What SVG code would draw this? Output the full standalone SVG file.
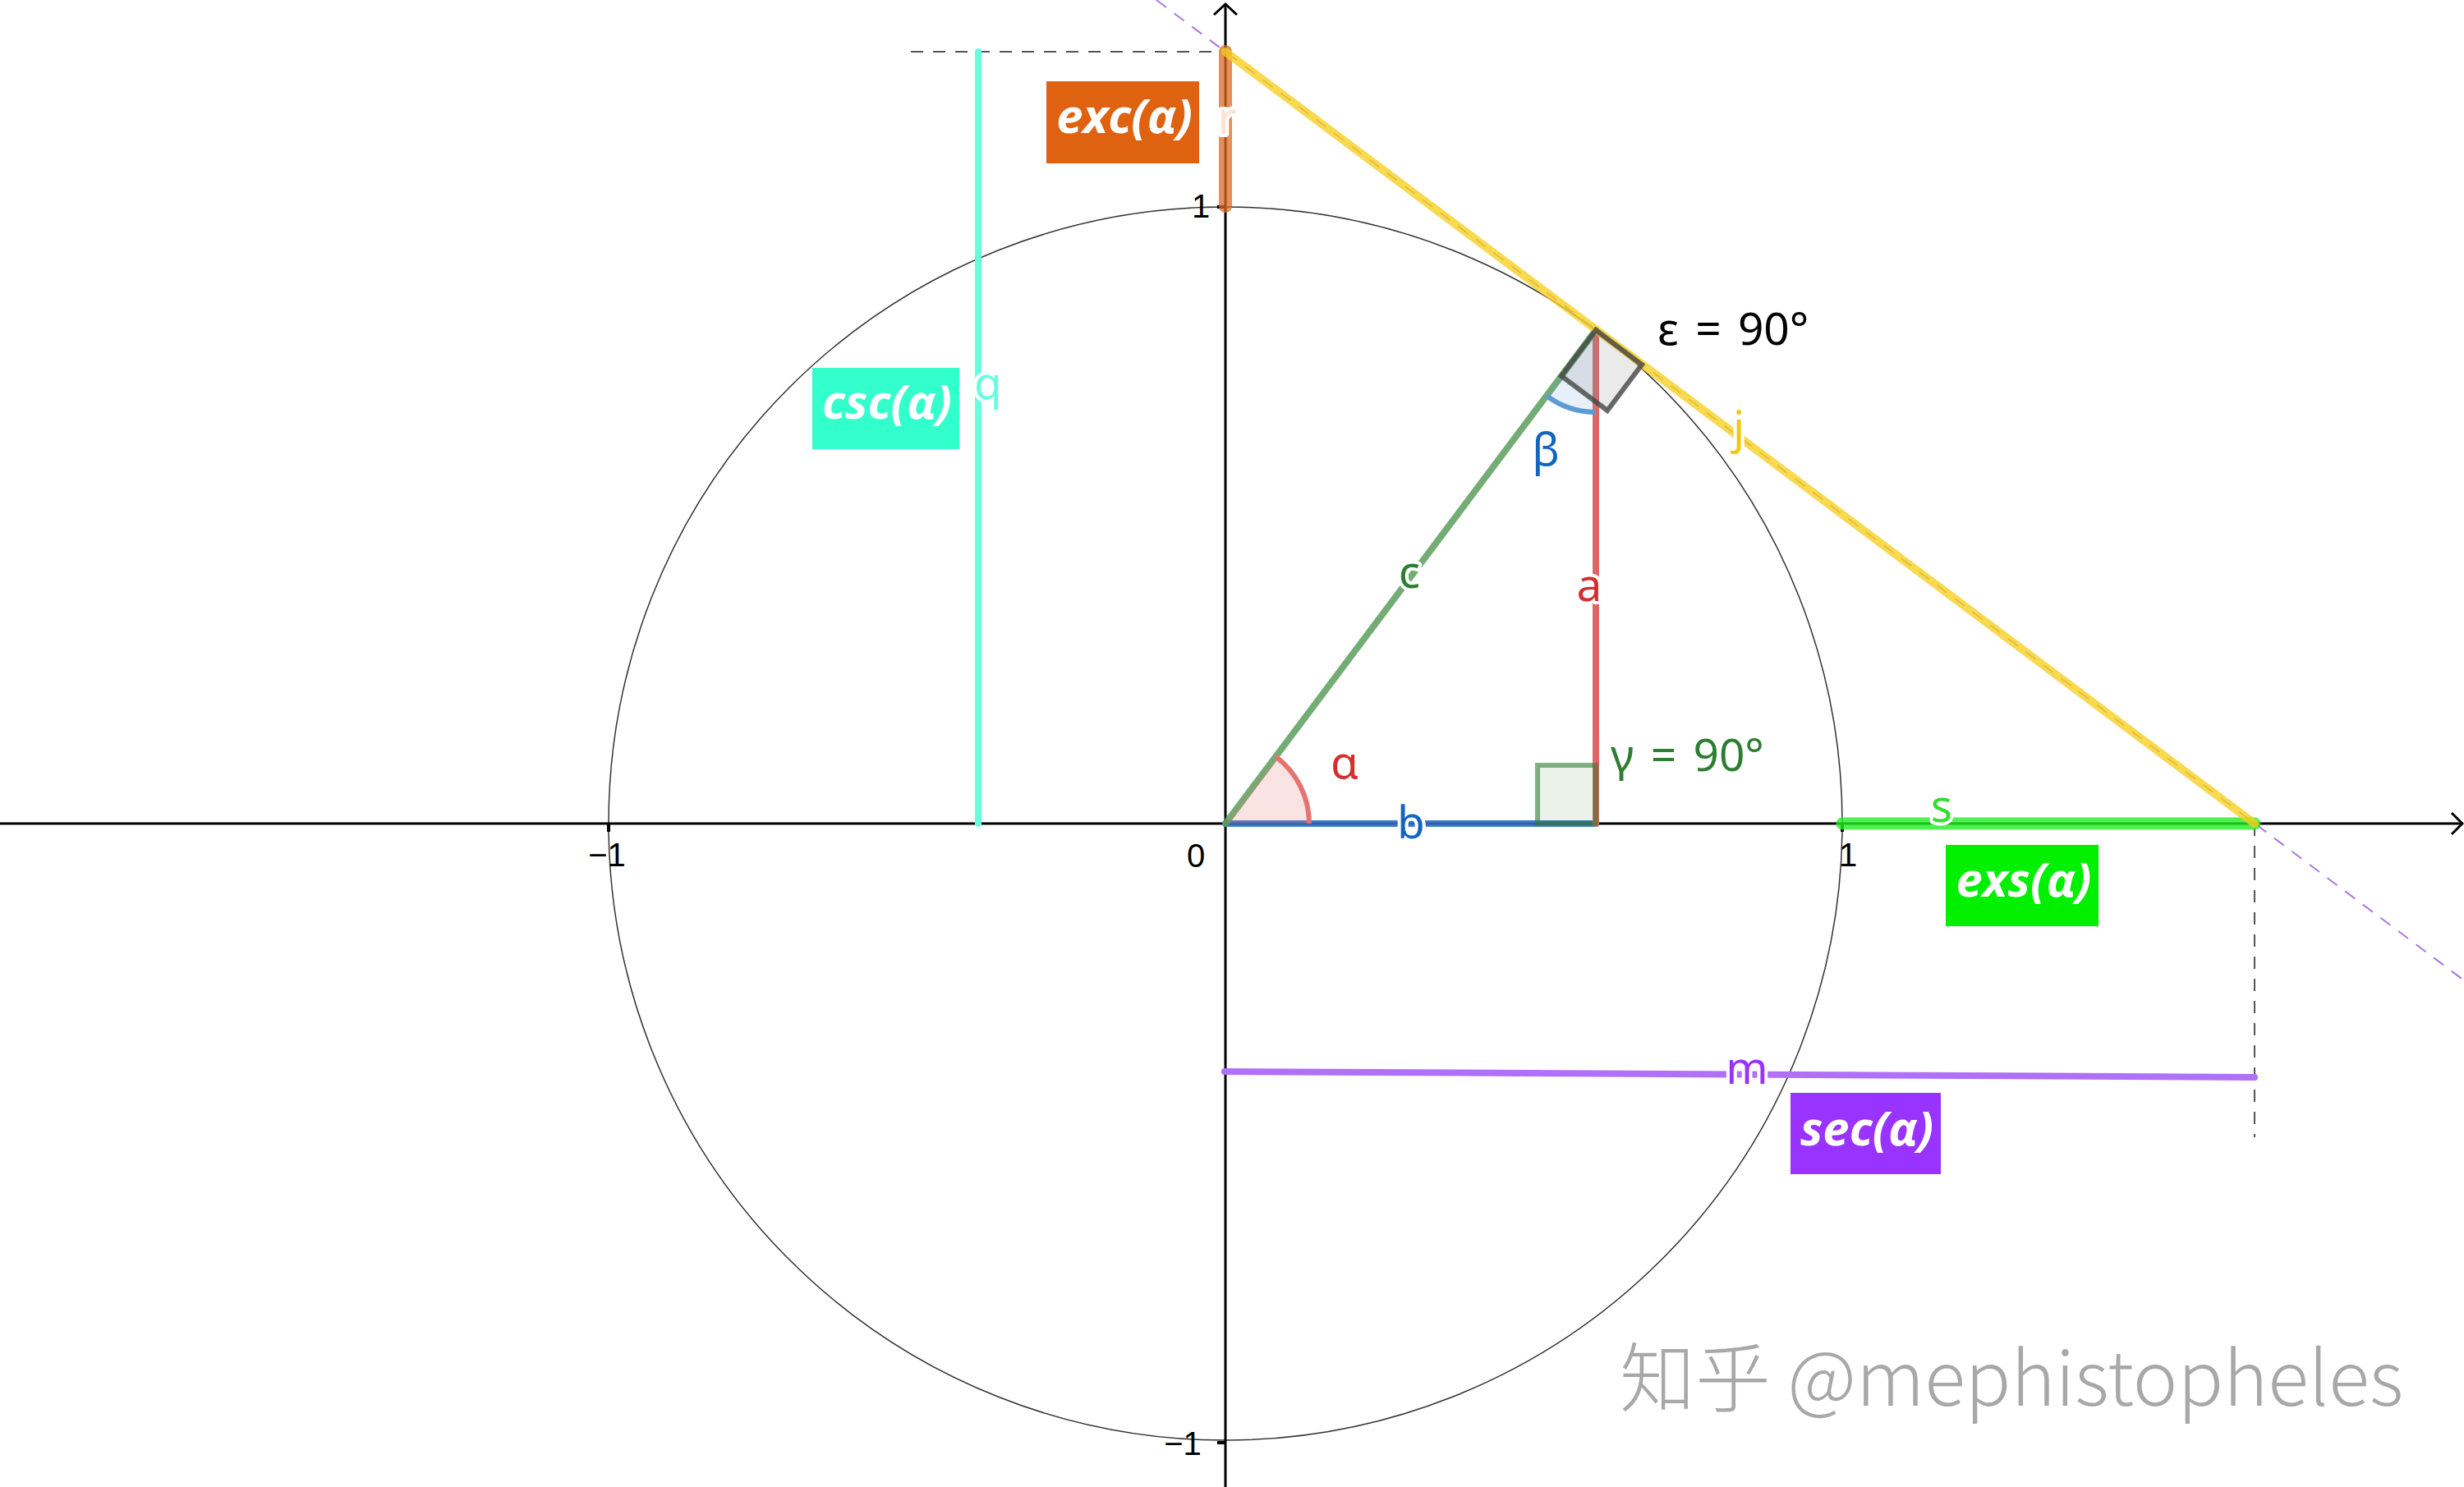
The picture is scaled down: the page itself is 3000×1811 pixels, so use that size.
<svg xmlns="http://www.w3.org/2000/svg" width="3000" height="1811" viewBox="0 0 3000 1811">
<style>
.axis{stroke:#000;stroke-width:3;fill:none}
.tickm{stroke:#000;stroke-width:4}
.tick{font-family:"Liberation Sans",Arial,sans-serif;font-size:40px;fill:#000}
.lbl{font-family:"Noto Sans","Open Sans",sans-serif;font-size:55px;paint-order:stroke;stroke:#fff;stroke-width:8;stroke-linejoin:round}
.plain{font-family:"Noto Sans","Open Sans",sans-serif;font-size:55px}
.box{font-family:"Open Sans","Noto Sans",sans-serif;font-weight:bold;font-style:italic;font-size:58px;fill:#fff;text-anchor:middle}
.mid{text-anchor:middle}
.dash{fill:none;stroke:#555;stroke-width:2;stroke-dasharray:15 12}
.seg{fill:none;stroke-linecap:round}
</style>
<rect width="3000" height="1811" fill="#fff"/>
<g id="grid">
  <circle cx="1492" cy="1003" r="751" fill="none" stroke="#333" stroke-width="1.5"/>
  <line class="axis" x1="0" y1="1003" x2="2998" y2="1003"/>
  <path class="axis" d="M2985,990 L2998,1003 L2985,1016"/>
  <line class="axis" x1="1492" y1="1811" x2="1492" y2="5"/>
  <path class="axis" d="M1478,18 L1492,5 L1506,18"/>
  <line class="tickm" x1="741" y1="1003" x2="741" y2="1013"/>
  <line class="tickm" x1="2243" y1="1003" x2="2243" y2="1013"/>
  <line class="tickm" x1="1482" y1="252" x2="1492" y2="252"/>
  <line class="tickm" x1="1482" y1="1757" x2="1492" y2="1757"/>
  <text class="tick mid" x="739" y="1055">−1</text>
  <text class="tick mid" x="2250" y="1055">1</text>
  <text class="tick mid" x="1456" y="1056">0</text>
  <text class="tick mid" x="1462" y="265">1</text>
  <text class="tick mid" x="1440" y="1772">−1</text>
</g>
<g id="connectors">
  <line class="dash" x1="1109" y1="63" x2="1492" y2="63"/>
  <line class="dash" x1="2745" y1="1003" x2="2745" y2="1385"/>
  <line id="tangent-line" x1="1408" y1="0" x2="3000" y2="1194" stroke="#a878e0" stroke-width="2" stroke-dasharray="15 12"/>
  <line id="seg-q" class="seg" x1="1191" y1="63" x2="1191" y2="1003" stroke="#66ffdd" stroke-width="8"/>
  <line id="seg-m" class="seg" x1="1491" y1="1305" x2="2745" y2="1312" stroke="#b070f8" stroke-width="8"/>
  <line id="seg-b" class="seg" x1="1492" y1="1003" x2="1943" y2="1003" stroke="#2f6fc4" stroke-width="8" opacity="0.9"/>
  <line id="seg-a" class="seg" x1="1943" y1="402" x2="1943" y2="1003" stroke="#e06666" stroke-width="8"/>
  <line id="seg-c" class="seg" x1="1492" y1="1003" x2="1943" y2="402" stroke="#5a9e5c" stroke-width="8" opacity="0.85"/>
  <line id="seg-s" class="seg" x1="2243" y1="1003" x2="2745" y2="1003" stroke="#22ee22" stroke-width="15" opacity="0.8"/>
  <line id="seg-r" class="seg" x1="1492" y1="63" x2="1492" y2="251" stroke="#dd6a20" stroke-width="16" opacity="0.75"/>
  <line id="seg-j" class="seg" x1="1492" y1="63" x2="2745" y2="1003" stroke="#f8d020" stroke-width="10" opacity="0.8"/>
</g>
<g id="angle-alpha">
  <path d="M1492,1003 L1594,1003 A102,102 0 0 0 1553.2,921.4 Z" fill="#e57373" fill-opacity="0.2"/>
  <path d="M1594,1003 A102,102 0 0 0 1553.2,921.4" fill="none" stroke="#e57373" stroke-width="6"/>
  <text class="plain" x="1620" y="948" fill="#d32f2f">α</text>
</g>
<g id="angle-beta">
  <path d="M1943,402 L1943,502 A100,100 0 0 1 1883,482 Z" fill="#5b9bd5" fill-opacity="0.15"/>
  <path d="M1943,502 A100,100 0 0 1 1883,482" fill="none" stroke="#5b9bd5" stroke-width="6"/>
  <text class="plain mid" x="1882" y="567" fill="#1565c0">β</text>
</g>
<g id="angle-gamma">
  <rect x="1872" y="932" width="71" height="71" fill="#2e7d32" fill-opacity="0.1" stroke="#2e7d32" stroke-opacity="0.6" stroke-width="6"/>
  <text class="plain" x="1961" y="939" fill="#2e7d32" word-spacing="6">γ = 90°</text>
</g>
<g id="angle-epsilon">
  <polygon points="1943,402 1999,444 1957,500 1901,458" fill="#888" fill-opacity="0.18" stroke="#444" stroke-opacity="0.8" stroke-width="6"/>
  <text class="plain" x="2018" y="420" fill="#000" word-spacing="6">ε = 90°</text>
</g>
<g id="segment-labels">
  <text class="lbl mid" x="1935" y="732" fill="#d32f2f">a</text>
  <text class="lbl mid" x="1718" y="1021" fill="#1565c0">b</text>
  <text class="lbl mid" x="1716" y="716" fill="#2e7d32">c</text>
  <text class="lbl mid" x="2117" y="540" fill="#f0c810">j</text>
  <text class="lbl" x="1186" y="486" fill="#66ffdd">q</text>
  <text class="lbl mid" x="2364" y="1001" fill="#33dd33">s</text>
  <text class="lbl mid" x="2127" y="1320" fill="#9933ff">m</text>
  <text class="lbl mid" x="1494" y="163" fill="#fbe3d3">r</text>
</g>
<g id="box-exc">
  <rect x="1274" y="99" width="186" height="100" fill="#df6210"/>
  <text class="box" x="1369" y="162">exc(α)</text>
</g>
<g id="box-csc">
  <rect x="989" y="448" width="179" height="99" fill="#33ffcc"/>
  <text class="box" x="1080" y="510">csc(α)</text>
</g>
<g id="box-exs">
  <rect x="2369" y="1029" width="186" height="99" fill="#00f000"/>
  <text class="box" x="2464" y="1092">exs(α)</text>
</g>
<g id="box-sec">
  <rect x="2180" y="1331" width="183" height="99" fill="#9933ff"/>
  <text class="box" x="2273" y="1395">sec(α)</text>
</g>
<g id="watermark">
  <text x="1972" y="1712" font-family="'Noto Sans CJK SC','Noto Sans',sans-serif" font-size="92" font-weight="300" fill="#a8a8a8">知乎 @mephistopheles</text>
</g>
</svg>
